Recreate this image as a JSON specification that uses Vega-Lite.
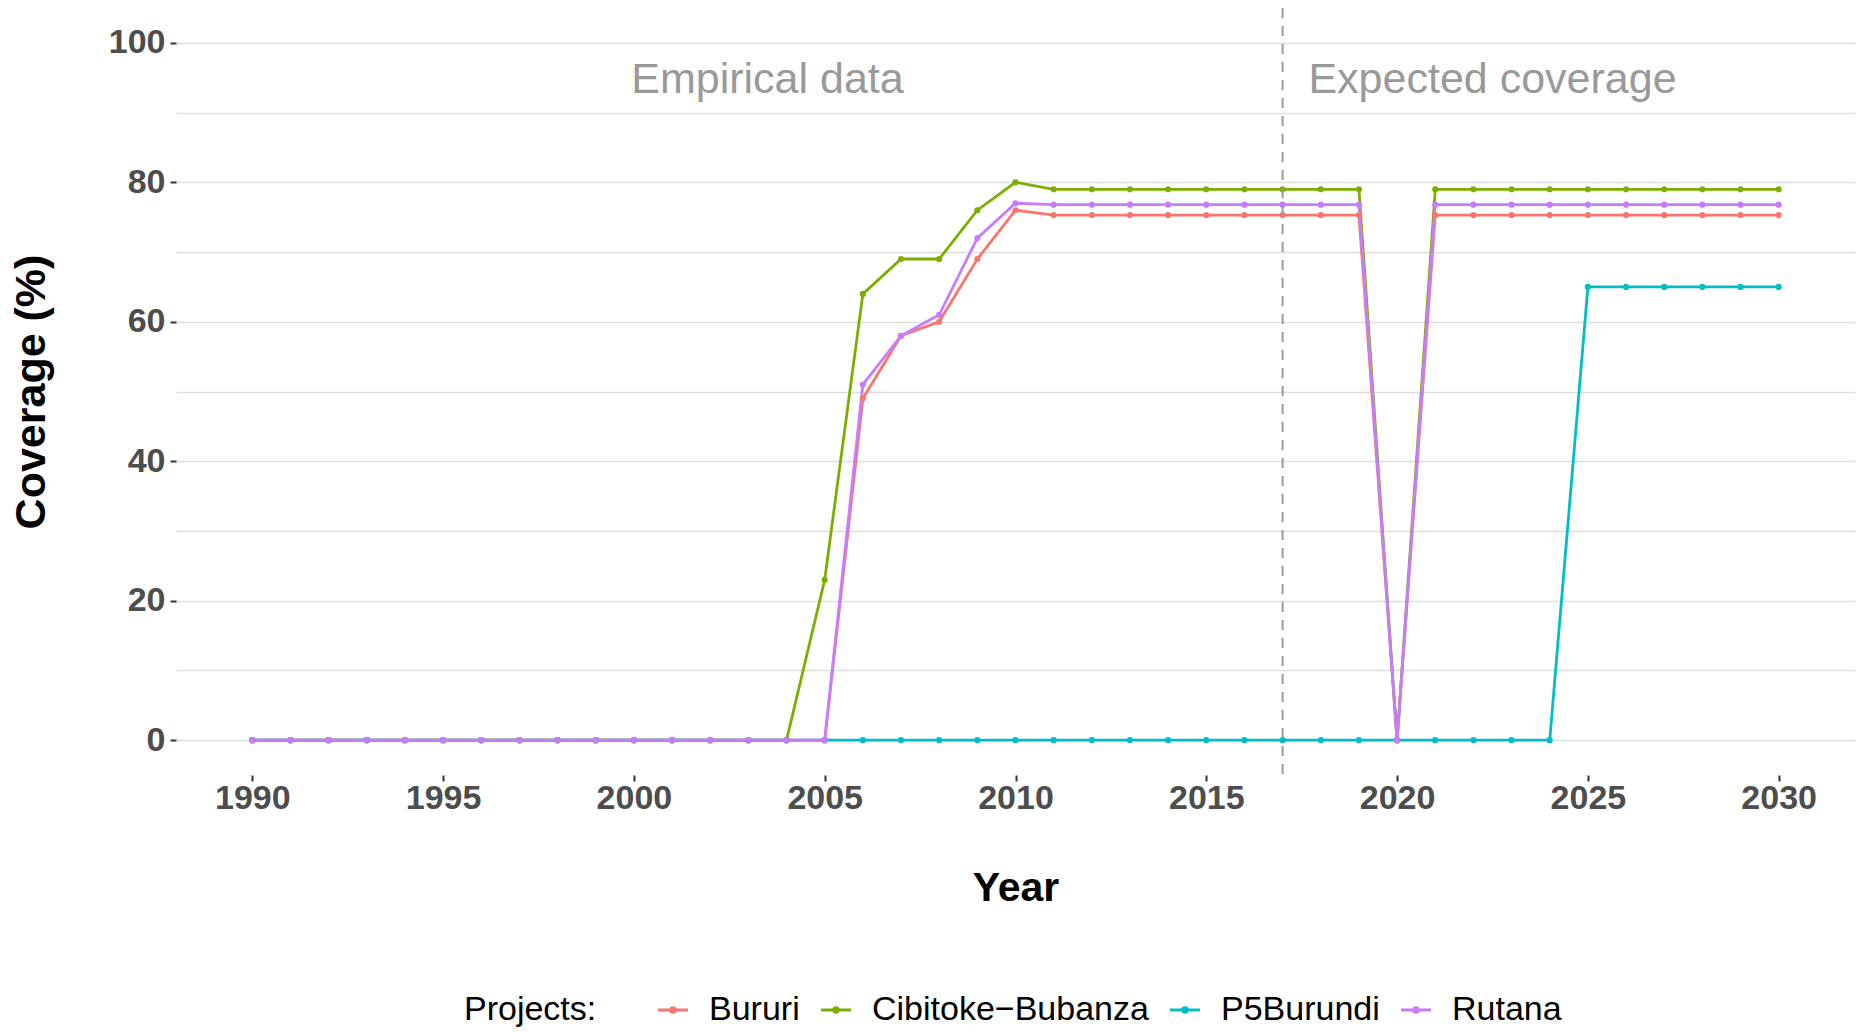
{
  "$schema": "https://vega.github.io/schema/vega-lite/v6.json",
  "autosize": {"type": "none"},
  "padding": {"left": 176, "top": 8, "right": 1, "bottom": 257},
  "width": 1679,
  "height": 767,
  "background": "white",
  "config": {
    "view": {"stroke": null},
    "font": "Liberation Sans",
    "axisX": {
      "grid": false,
      "domain": false,
      "ticks": true,
      "tickSize": 6,
      "tickWidth": 2,
      "tickColor": "#333333",
      "labelFont": "Liberation Sans",
      "labelFontSize": 34,
      "labelFontWeight": "bold",
      "labelColor": "#4D4D4D",
      "labelPadding": 0,
      "labelFlush": false,
      "titleFont": "Liberation Sans",
      "titleFontSize": 41,
      "titleFontWeight": "bold",
      "titleColor": "#000000"
    },
    "axisY": {
      "grid": true,
      "gridColor": "#DEDEDE",
      "gridWidth": 1.5,
      "domain": false,
      "ticks": true,
      "tickSize": 6,
      "tickWidth": 2,
      "tickColor": "#333333",
      "labelFont": "Liberation Sans",
      "labelFontSize": 34,
      "labelFontWeight": "bold",
      "labelColor": "#4D4D4D",
      "labelPadding": 5,
      "labelFlush": false,
      "titleFont": "Liberation Sans",
      "titleFontSize": 43,
      "titleFontWeight": "bold",
      "titleColor": "#000000"
    }
  },
  "datasets": {
    "coverage": [
      {"year": 1990, "project": "Bururi", "coverage": 0},
      {"year": 1991, "project": "Bururi", "coverage": 0},
      {"year": 1992, "project": "Bururi", "coverage": 0},
      {"year": 1993, "project": "Bururi", "coverage": 0},
      {"year": 1994, "project": "Bururi", "coverage": 0},
      {"year": 1995, "project": "Bururi", "coverage": 0},
      {"year": 1996, "project": "Bururi", "coverage": 0},
      {"year": 1997, "project": "Bururi", "coverage": 0},
      {"year": 1998, "project": "Bururi", "coverage": 0},
      {"year": 1999, "project": "Bururi", "coverage": 0},
      {"year": 2000, "project": "Bururi", "coverage": 0},
      {"year": 2001, "project": "Bururi", "coverage": 0},
      {"year": 2002, "project": "Bururi", "coverage": 0},
      {"year": 2003, "project": "Bururi", "coverage": 0},
      {"year": 2004, "project": "Bururi", "coverage": 0},
      {"year": 2005, "project": "Bururi", "coverage": 0},
      {"year": 2006, "project": "Bururi", "coverage": 49},
      {"year": 2007, "project": "Bururi", "coverage": 58},
      {"year": 2008, "project": "Bururi", "coverage": 60},
      {"year": 2009, "project": "Bururi", "coverage": 69},
      {"year": 2010, "project": "Bururi", "coverage": 76},
      {"year": 2011, "project": "Bururi", "coverage": 75.3},
      {"year": 2012, "project": "Bururi", "coverage": 75.3},
      {"year": 2013, "project": "Bururi", "coverage": 75.3},
      {"year": 2014, "project": "Bururi", "coverage": 75.3},
      {"year": 2015, "project": "Bururi", "coverage": 75.3},
      {"year": 2016, "project": "Bururi", "coverage": 75.3},
      {"year": 2017, "project": "Bururi", "coverage": 75.3},
      {"year": 2018, "project": "Bururi", "coverage": 75.3},
      {"year": 2019, "project": "Bururi", "coverage": 75.3},
      {"year": 2020, "project": "Bururi", "coverage": 0},
      {"year": 2021, "project": "Bururi", "coverage": 75.3},
      {"year": 2022, "project": "Bururi", "coverage": 75.3},
      {"year": 2023, "project": "Bururi", "coverage": 75.3},
      {"year": 2024, "project": "Bururi", "coverage": 75.3},
      {"year": 2025, "project": "Bururi", "coverage": 75.3},
      {"year": 2026, "project": "Bururi", "coverage": 75.3},
      {"year": 2027, "project": "Bururi", "coverage": 75.3},
      {"year": 2028, "project": "Bururi", "coverage": 75.3},
      {"year": 2029, "project": "Bururi", "coverage": 75.3},
      {"year": 2030, "project": "Bururi", "coverage": 75.3},
      {"year": 1990, "project": "Cibitoke−Bubanza", "coverage": 0},
      {"year": 1991, "project": "Cibitoke−Bubanza", "coverage": 0},
      {"year": 1992, "project": "Cibitoke−Bubanza", "coverage": 0},
      {"year": 1993, "project": "Cibitoke−Bubanza", "coverage": 0},
      {"year": 1994, "project": "Cibitoke−Bubanza", "coverage": 0},
      {"year": 1995, "project": "Cibitoke−Bubanza", "coverage": 0},
      {"year": 1996, "project": "Cibitoke−Bubanza", "coverage": 0},
      {"year": 1997, "project": "Cibitoke−Bubanza", "coverage": 0},
      {"year": 1998, "project": "Cibitoke−Bubanza", "coverage": 0},
      {"year": 1999, "project": "Cibitoke−Bubanza", "coverage": 0},
      {"year": 2000, "project": "Cibitoke−Bubanza", "coverage": 0},
      {"year": 2001, "project": "Cibitoke−Bubanza", "coverage": 0},
      {"year": 2002, "project": "Cibitoke−Bubanza", "coverage": 0},
      {"year": 2003, "project": "Cibitoke−Bubanza", "coverage": 0},
      {"year": 2004, "project": "Cibitoke−Bubanza", "coverage": 0},
      {"year": 2005, "project": "Cibitoke−Bubanza", "coverage": 23},
      {"year": 2006, "project": "Cibitoke−Bubanza", "coverage": 64},
      {"year": 2007, "project": "Cibitoke−Bubanza", "coverage": 69},
      {"year": 2008, "project": "Cibitoke−Bubanza", "coverage": 69},
      {"year": 2009, "project": "Cibitoke−Bubanza", "coverage": 76},
      {"year": 2010, "project": "Cibitoke−Bubanza", "coverage": 80},
      {"year": 2011, "project": "Cibitoke−Bubanza", "coverage": 79},
      {"year": 2012, "project": "Cibitoke−Bubanza", "coverage": 79},
      {"year": 2013, "project": "Cibitoke−Bubanza", "coverage": 79},
      {"year": 2014, "project": "Cibitoke−Bubanza", "coverage": 79},
      {"year": 2015, "project": "Cibitoke−Bubanza", "coverage": 79},
      {"year": 2016, "project": "Cibitoke−Bubanza", "coverage": 79},
      {"year": 2017, "project": "Cibitoke−Bubanza", "coverage": 79},
      {"year": 2018, "project": "Cibitoke−Bubanza", "coverage": 79},
      {"year": 2019, "project": "Cibitoke−Bubanza", "coverage": 79},
      {"year": 2020, "project": "Cibitoke−Bubanza", "coverage": 0},
      {"year": 2021, "project": "Cibitoke−Bubanza", "coverage": 79},
      {"year": 2022, "project": "Cibitoke−Bubanza", "coverage": 79},
      {"year": 2023, "project": "Cibitoke−Bubanza", "coverage": 79},
      {"year": 2024, "project": "Cibitoke−Bubanza", "coverage": 79},
      {"year": 2025, "project": "Cibitoke−Bubanza", "coverage": 79},
      {"year": 2026, "project": "Cibitoke−Bubanza", "coverage": 79},
      {"year": 2027, "project": "Cibitoke−Bubanza", "coverage": 79},
      {"year": 2028, "project": "Cibitoke−Bubanza", "coverage": 79},
      {"year": 2029, "project": "Cibitoke−Bubanza", "coverage": 79},
      {"year": 2030, "project": "Cibitoke−Bubanza", "coverage": 79},
      {"year": 1990, "project": "P5Burundi", "coverage": 0},
      {"year": 1991, "project": "P5Burundi", "coverage": 0},
      {"year": 1992, "project": "P5Burundi", "coverage": 0},
      {"year": 1993, "project": "P5Burundi", "coverage": 0},
      {"year": 1994, "project": "P5Burundi", "coverage": 0},
      {"year": 1995, "project": "P5Burundi", "coverage": 0},
      {"year": 1996, "project": "P5Burundi", "coverage": 0},
      {"year": 1997, "project": "P5Burundi", "coverage": 0},
      {"year": 1998, "project": "P5Burundi", "coverage": 0},
      {"year": 1999, "project": "P5Burundi", "coverage": 0},
      {"year": 2000, "project": "P5Burundi", "coverage": 0},
      {"year": 2001, "project": "P5Burundi", "coverage": 0},
      {"year": 2002, "project": "P5Burundi", "coverage": 0},
      {"year": 2003, "project": "P5Burundi", "coverage": 0},
      {"year": 2004, "project": "P5Burundi", "coverage": 0},
      {"year": 2005, "project": "P5Burundi", "coverage": 0},
      {"year": 2006, "project": "P5Burundi", "coverage": 0},
      {"year": 2007, "project": "P5Burundi", "coverage": 0},
      {"year": 2008, "project": "P5Burundi", "coverage": 0},
      {"year": 2009, "project": "P5Burundi", "coverage": 0},
      {"year": 2010, "project": "P5Burundi", "coverage": 0},
      {"year": 2011, "project": "P5Burundi", "coverage": 0},
      {"year": 2012, "project": "P5Burundi", "coverage": 0},
      {"year": 2013, "project": "P5Burundi", "coverage": 0},
      {"year": 2014, "project": "P5Burundi", "coverage": 0},
      {"year": 2015, "project": "P5Burundi", "coverage": 0},
      {"year": 2016, "project": "P5Burundi", "coverage": 0},
      {"year": 2017, "project": "P5Burundi", "coverage": 0},
      {"year": 2018, "project": "P5Burundi", "coverage": 0},
      {"year": 2019, "project": "P5Burundi", "coverage": 0},
      {"year": 2020, "project": "P5Burundi", "coverage": 0},
      {"year": 2021, "project": "P5Burundi", "coverage": 0},
      {"year": 2022, "project": "P5Burundi", "coverage": 0},
      {"year": 2023, "project": "P5Burundi", "coverage": 0},
      {"year": 2024, "project": "P5Burundi", "coverage": 0},
      {"year": 2025, "project": "P5Burundi", "coverage": 65},
      {"year": 2026, "project": "P5Burundi", "coverage": 65},
      {"year": 2027, "project": "P5Burundi", "coverage": 65},
      {"year": 2028, "project": "P5Burundi", "coverage": 65},
      {"year": 2029, "project": "P5Burundi", "coverage": 65},
      {"year": 2030, "project": "P5Burundi", "coverage": 65},
      {"year": 1990, "project": "Rutana", "coverage": 0},
      {"year": 1991, "project": "Rutana", "coverage": 0},
      {"year": 1992, "project": "Rutana", "coverage": 0},
      {"year": 1993, "project": "Rutana", "coverage": 0},
      {"year": 1994, "project": "Rutana", "coverage": 0},
      {"year": 1995, "project": "Rutana", "coverage": 0},
      {"year": 1996, "project": "Rutana", "coverage": 0},
      {"year": 1997, "project": "Rutana", "coverage": 0},
      {"year": 1998, "project": "Rutana", "coverage": 0},
      {"year": 1999, "project": "Rutana", "coverage": 0},
      {"year": 2000, "project": "Rutana", "coverage": 0},
      {"year": 2001, "project": "Rutana", "coverage": 0},
      {"year": 2002, "project": "Rutana", "coverage": 0},
      {"year": 2003, "project": "Rutana", "coverage": 0},
      {"year": 2004, "project": "Rutana", "coverage": 0},
      {"year": 2005, "project": "Rutana", "coverage": 0},
      {"year": 2006, "project": "Rutana", "coverage": 51},
      {"year": 2007, "project": "Rutana", "coverage": 58},
      {"year": 2008, "project": "Rutana", "coverage": 61},
      {"year": 2009, "project": "Rutana", "coverage": 72},
      {"year": 2010, "project": "Rutana", "coverage": 77},
      {"year": 2011, "project": "Rutana", "coverage": 76.8},
      {"year": 2012, "project": "Rutana", "coverage": 76.8},
      {"year": 2013, "project": "Rutana", "coverage": 76.8},
      {"year": 2014, "project": "Rutana", "coverage": 76.8},
      {"year": 2015, "project": "Rutana", "coverage": 76.8},
      {"year": 2016, "project": "Rutana", "coverage": 76.8},
      {"year": 2017, "project": "Rutana", "coverage": 76.8},
      {"year": 2018, "project": "Rutana", "coverage": 76.8},
      {"year": 2019, "project": "Rutana", "coverage": 76.8},
      {"year": 2020, "project": "Rutana", "coverage": 0},
      {"year": 2021, "project": "Rutana", "coverage": 76.8},
      {"year": 2022, "project": "Rutana", "coverage": 76.8},
      {"year": 2023, "project": "Rutana", "coverage": 76.8},
      {"year": 2024, "project": "Rutana", "coverage": 76.8},
      {"year": 2025, "project": "Rutana", "coverage": 76.8},
      {"year": 2026, "project": "Rutana", "coverage": 76.8},
      {"year": 2027, "project": "Rutana", "coverage": 76.8},
      {"year": 2028, "project": "Rutana", "coverage": 76.8},
      {"year": 2029, "project": "Rutana", "coverage": 76.8},
      {"year": 2030, "project": "Rutana", "coverage": 76.8}
    ]
  },
  "layer": [
    {
      "data": {"name": "coverage"},
      "mark": {"type": "line", "strokeWidth": 2.8},
      "encoding": {
        "x": {
          "field": "year",
          "type": "quantitative",
          "scale": {"domain": [1988, 2032], "nice": false, "zero": false},
          "axis": {
            "title": "Year",
            "values": [1990, 1995, 2000, 2005, 2010, 2015, 2020, 2025, 2030],
            "format": "d",
            "titleBaseline": "alphabetic",
            "titleAnchor": "middle",
            "titleX": 839.5,
            "titleY": 125
          }
        },
        "y": {
          "field": "coverage",
          "type": "quantitative",
          "scale": {"domain": [-5, 105], "nice": false, "zero": false},
          "axis": {
            "title": "Coverage (%)",
            "values": [0, 10, 20, 30, 40, 50, 60, 70, 80, 90, 100],
            "labelExpr": "datum.value % 20 === 0 ? datum.label : ''",
            "tickOpacity": {"condition": {"test": "datum.value % 20 === 0", "value": 1}, "value": 0},
            "titleAngle": -90,
            "titleAlign": "center",
            "titleBaseline": "alphabetic",
            "titleX": -131.5,
            "titleY": 383.5
          }
        },
        "color": {
          "field": "project",
          "type": "nominal",
          "scale": {
            "domain": ["Bururi", "Cibitoke−Bubanza", "P5Burundi", "Rutana"],
            "range": ["#F8766D", "#7CAE00", "#00BFC4", "#C77CFF"]
          },
          "legend": {
            "title": "Projects:",
            "orient": "none",
            "legendX": 288,
            "legendY": 985,
            "direction": "horizontal",
            "titleOrient": "left",
            "titleFont": "Liberation Sans",
            "titleFontSize": 34,
            "titleFontWeight": "normal",
            "titleColor": "#000000",
            "titlePadding": 59,
            "titleBaseline": "middle",
            "titleLimit": 0,
            "labelFont": "Liberation Sans",
            "labelFontSize": 34,
            "labelColor": "#000000",
            "labelLimit": 0,
            "labelOffset": 19,
            "columnPadding": 15,
            "padding": 0,
            "symbolSize": 900,
            "symbolStrokeWidth": 3,
            "symbolType": "M-1,0L1,0M-0.15,0A0.15,0.15 0 1,0 0.15,0A0.15,0.15 0 1,0 -0.15,0",
            "encode": {
              "symbols": {
                "update": {
                  "stroke": {"scale": "color", "field": "value"},
                  "fill": {"scale": "color", "field": "value"},
                  "strokeWidth": {"value": 3},
                  "opacity": {"value": 1},
                  "shape": {"value": "M-1,0L1,0M-0.15,0A0.15,0.15 0 1,0 0.15,0A0.15,0.15 0 1,0 -0.15,0"},
                  "size": {"value": 900}
                }
              }
            }
          }
        }
      }
    },
    {
      "data": {"name": "coverage"},
      "mark": {"type": "point", "filled": true, "size": 38, "opacity": 1},
      "encoding": {
        "x": {"field": "year", "type": "quantitative"},
        "y": {"field": "coverage", "type": "quantitative"},
        "color": {"field": "project", "type": "nominal", "legend": null}
      }
    },
    {
      "data": {"values": [{"boundary": 2017}]},
      "mark": {"type": "rule", "color": "#999999", "strokeWidth": 2, "strokeDash": [10, 8]},
      "encoding": {"x": {"field": "boundary", "type": "quantitative"}}
    },
    {
      "data": {"values": [{"label": "Empirical data"}]},
      "mark": {"type": "text", "font": "Liberation Sans", "fontSize": 43, "color": "#999999", "align": "center", "baseline": "alphabetic"},
      "encoding": {"x": {"datum": 2003.5}, "y": {"datum": 92.85}, "text": {"field": "label", "type": "nominal"}}
    },
    {
      "data": {"values": [{"label": "Expected coverage"}]},
      "mark": {"type": "text", "font": "Liberation Sans", "fontSize": 43, "color": "#999999", "align": "center", "baseline": "alphabetic"},
      "encoding": {"x": {"datum": 2022.5}, "y": {"datum": 92.85}, "text": {"field": "label", "type": "nominal"}}
    }
  ]
}
